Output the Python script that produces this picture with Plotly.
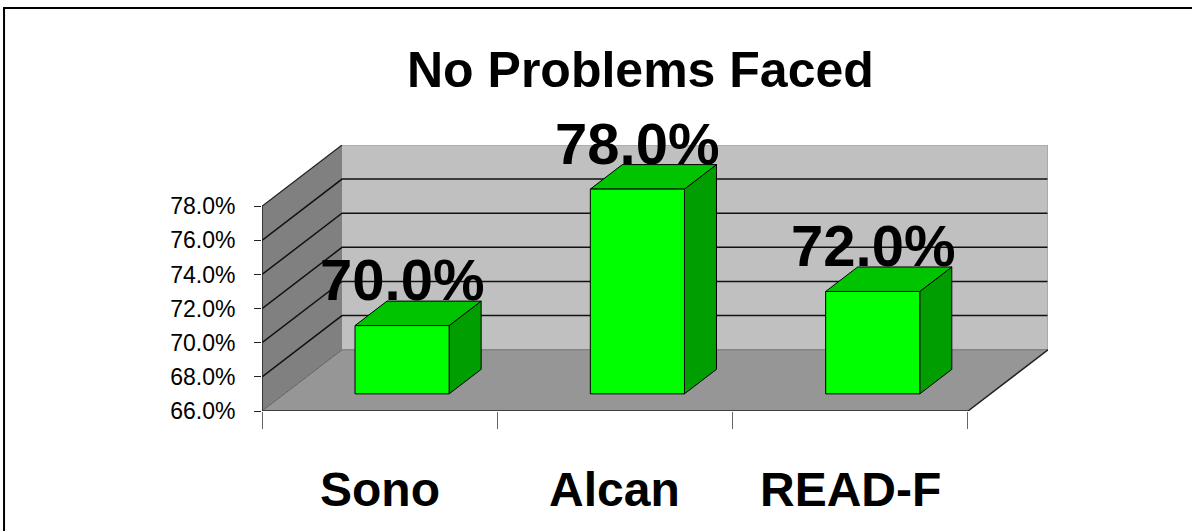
import plotly.graph_objects as go

# ---- data ----
categories = ["Sono", "Alcan", "READ-F"]
values = [70.0, 78.0, 72.0]
y_ticks = [66, 68, 70, 72, 74, 76, 78]
y_tick_labels = [f"{v:.1f}%" for v in y_ticks]
title_text = "No Problems Faced"

# ---- 3D-look geometry (in axis units) ----
Y_MIN, Y_MAX = 66, 78
N = len(categories)
DEPTH_X = 0.34      # oblique offset of the full depth along x (category units)
DEPTH_Y = 3.59      # oblique offset of the full depth along y (percent units)
BAR_HALF = 0.2
D_FRONT = 0.28
D_BACK = 0.68

FONT = "Arial, Liberation Sans, sans-serif"


def proj(x, y, d):
    return x + d * DEPTH_X, y + d * DEPTH_Y


def poly(points):
    xs, ys = [], []
    for (x, y, d) in points:
        px, py = proj(x, y, d)
        xs.append(px)
        ys.append(py)
    return xs, ys


fig = go.Figure()


def add_fill(points, fill, line_color=None, width=0):
    xs, ys = poly(points)
    fig.add_trace(go.Scatter(
        x=xs + [xs[0]], y=ys + [ys[0]], mode="lines", fill="toself",
        fillcolor=fill,
        line=dict(color=line_color or fill, width=width),
        hoverinfo="skip", showlegend=False))


def add_line(points, color, width):
    xs, ys = poly(points)
    fig.add_trace(go.Scatter(
        x=xs, y=ys, mode="lines", line=dict(color=color, width=width),
        hoverinfo="skip", showlegend=False))


# walls and floor
add_fill([(0, Y_MIN, 0), (0, Y_MAX, 0), (0, Y_MAX, 1), (0, Y_MIN, 1)], "#808080")
add_fill([(0, Y_MIN, 1), (N, Y_MIN, 1), (N, Y_MAX, 1), (0, Y_MAX, 1)], "#C0C0C0")
add_fill([(0, Y_MIN, 0), (N, Y_MIN, 0), (N, Y_MIN, 1), (0, Y_MIN, 1)], "#969696")

# gridlines
for v in y_ticks[1:-1]:
    add_line([(0, v, 0), (0, v, 1), (N, v, 1)], "#111111", 1.5)
add_line([(0, Y_MAX, 0), (0, Y_MAX, 1)], "#222222", 1.2)
add_line([(0, Y_MAX, 1), (N, Y_MAX, 1), (N, Y_MIN, 1)], "#9a9a9a", 1.2)
add_line([(0, Y_MIN, 1), (N, Y_MIN, 1)], "#707070", 1.2)
add_line([(0, Y_MIN, 0), (0, Y_MIN, 1)], "#606060", 1)
# front edges
add_line([(0, Y_MIN, 0), (N, Y_MIN, 0), (N, Y_MIN, 1)], "#222222", 1.5)
add_line([(0, Y_MIN, 0), (0, Y_MAX, 0)], "#222222", 1.5)

# bars
for i, v in enumerate(values):
    x0 = i + 0.5 - BAR_HALF
    x1 = i + 0.5 + BAR_HALF
    add_fill([(x1, Y_MIN, D_FRONT), (x1, Y_MIN, D_BACK), (x1, v, D_BACK), (x1, v, D_FRONT)],
             "#009E00", "#000000", 1)
    add_fill([(x0, v, D_FRONT), (x1, v, D_FRONT), (x1, v, D_BACK), (x0, v, D_BACK)],
             "#00C400", "#000000", 1)
    add_fill([(x0, Y_MIN, D_FRONT), (x1, Y_MIN, D_FRONT), (x1, v, D_FRONT), (x0, v, D_FRONT)],
             "#00FF00", "#000000", 1)
    lx, ly = proj(i + 0.5, v, D_FRONT)
    fig.add_annotation(x=lx, y=ly, xref="x", yref="y", text=f"{v:.1f}%",
                       showarrow=False, yshift=46, xanchor="center", yanchor="middle",
                       font=dict(family=FONT, size=58, color="#000000", weight="bold"))

# category labels
for i, c in enumerate(categories):
    fig.add_annotation(x=i + 0.5, y=-0.295, xref="x", yref="paper", text=c,
                       showarrow=False, xanchor="center", yanchor="middle",
                       font=dict(family=FONT, size=48, color="#000000", weight="bold"))

# title
fig.add_annotation(x=0.482, y=1.282, xref="paper", yref="paper", text=title_text,
                   showarrow=False, xanchor="center", yanchor="middle",
                   font=dict(family=FONT, size=50, color="#000000", weight="bold"))

# outer frame (top and left edges visible)
fig.add_shape(type="rect", xref="paper", yref="paper",
              x0=-0.3282, y0=-2, x1=2, y1=1.515,
              line=dict(color="#000000", width=2), fillcolor="rgba(0,0,0,0)", layer="above")

fig.update_layout(
    width=1192, height=531,
    margin=dict(l=262, r=144, t=145, b=120),
    plot_bgcolor="#FFFFFF", paper_bgcolor="#FFFFFF",
    showlegend=False,
    xaxis=dict(range=[0, N + DEPTH_X], showgrid=False, zeroline=False, showline=False,
               tickvals=list(range(N + 1)), ticks="outside", ticklen=17,
               tickcolor="#666666", tickwidth=1, showticklabels=False,
               fixedrange=True, automargin=False),
    yaxis=dict(range=[Y_MIN, Y_MAX + DEPTH_Y], showgrid=False, zeroline=False, showline=False,
               tickvals=y_ticks, ticktext=y_tick_labels, ticks="outside", ticklen=7,
               tickcolor="#222222", tickwidth=1, ticklabelstandoff=14,
               tickfont=dict(family=FONT, size=23, color="#000000"),
               fixedrange=True, automargin=False),
)

fig.write_html("out.html")
